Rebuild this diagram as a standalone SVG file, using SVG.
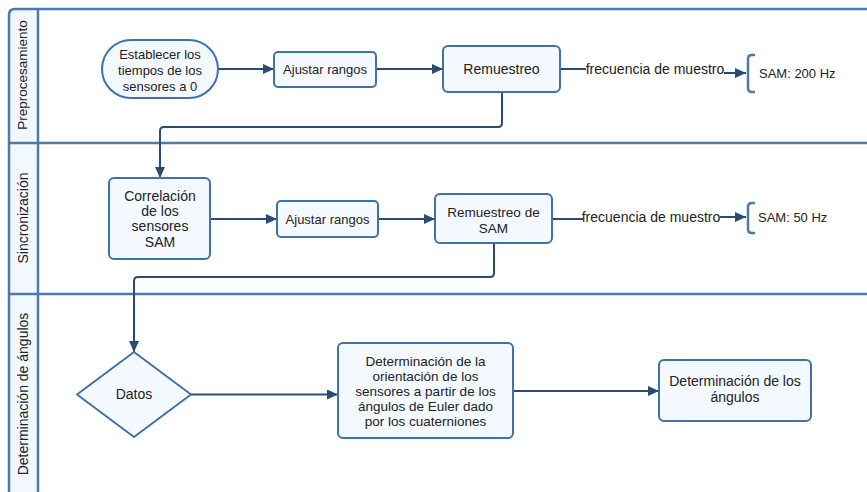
<svg xmlns="http://www.w3.org/2000/svg" width="867" height="492" viewBox="0 0 867 492">
<defs>
<style>
.lane{fill:none;stroke:#4a7bab;stroke-width:2.5}
.hdr{fill:#f2f8fd;stroke:none}
.node{fill:#f4f9ff;stroke:#3f72a6;stroke-width:2}
.edge{fill:none;stroke:#2b4c70;stroke-width:2}
.br{fill:none;stroke:#4a7bab;stroke-width:2.5}
text{font-family:"Liberation Sans",Arial,sans-serif;fill:#222;text-anchor:middle}
.s13{font-size:13px}
.s135{font-size:13.5px}
.s14{font-size:14px}
.lt{text-anchor:start}
</style>
<marker id="ah" markerUnits="userSpaceOnUse" markerWidth="12" markerHeight="10" refX="11" refY="5" orient="auto">
<path d="M0,0 L11,5 L0,10 z" fill="#2b4c70"/>
</marker>
</defs>
<rect width="867" height="492" fill="#ffffff"/>
<g id="pool">
<path class="hdr" d="M9,500 V15 Q9,9 15,9 H38 V500 z"/>
<path class="lane" d="M9,500 V15 Q9,9 15,9 H870"/>
<line class="lane" x1="38" y1="9" x2="38" y2="500"/>
<line class="lane" x1="9" y1="143" x2="870" y2="143"/>
<line class="lane" x1="9" y1="294" x2="870" y2="294"/>
<text class="s135" transform="translate(27,75) rotate(-90)">Preprocesamiento</text>
<text class="s14" transform="translate(28,218) rotate(-90)">Sincronización</text>
<text class="s14" transform="translate(28,394) rotate(-90)">Determinación de ángulos</text>
</g>
<g id="connectors">
<line class="edge" x1="218" y1="69" x2="274" y2="69" marker-end="url(#ah)"/>
<line class="edge" x1="376" y1="69" x2="443" y2="69" marker-end="url(#ah)"/>
<line class="edge" x1="560" y1="69" x2="586" y2="69"/>
<line class="edge" x1="724" y1="73" x2="746" y2="73" marker-end="url(#ah)"/>
<path class="edge" d="M502,92 V123 Q502,127 498,127 H164 Q160,127 160,131 V178" marker-end="url(#ah)"/>
<line class="edge" x1="210" y1="219" x2="277" y2="219" marker-end="url(#ah)"/>
<line class="edge" x1="378" y1="219" x2="435" y2="219" marker-end="url(#ah)"/>
<line class="edge" x1="552" y1="219" x2="583" y2="219"/>
<line class="edge" x1="720" y1="217" x2="746" y2="217" marker-end="url(#ah)"/>
<path class="edge" d="M494,243 V273 Q494,277 490,277 H138 Q134,277 134,281 V352" marker-end="url(#ah)"/>
<line class="edge" x1="191" y1="394.5" x2="338" y2="394.5" marker-end="url(#ah)"/>
<line class="edge" x1="513" y1="391" x2="659" y2="391" marker-end="url(#ah)"/>
<text class="s14" x="655" y="74">frecuencia de muestro</text>
<text class="s14" x="651" y="222">frecuencia de muestro</text>
</g>
<g id="n-establecer">
<rect class="node" x="102" y="40" width="116" height="58" rx="29"/>
<text class="s13" x="160" y="59">Establecer los</text>
<text class="s13" x="160" y="75">tiempos de los</text>
<text class="s13" x="160" y="91">sensores a 0</text>
</g>
<g id="n-ajustar1">
<rect class="node" x="274" y="52" width="102" height="35" rx="4"/>
<text class="s13" x="325" y="74">Ajustar rangos</text>
</g>
<g id="n-remuestreo">
<rect class="node" x="443" y="46" width="117" height="46" rx="5"/>
<text class="s14" x="501.5" y="74">Remuestreo</text>
</g>
<g id="n-sam200">
<path class="br" d="M755,55 H752 Q748,55 748,59 V88 Q748,92 752,92 H755"/>
<text class="s13 lt" x="759" y="78">SAM: 200 Hz</text>
</g>
<g id="n-correlacion">
<rect class="node" x="109" y="178" width="101" height="81" rx="5"/>
<text class="s14" x="160" y="201">Correlación</text>
<text class="s14" x="160" y="216">de los</text>
<text class="s14" x="160" y="231">sensores</text>
<text class="s14" x="160" y="247">SAM</text>
</g>
<g id="n-ajustar2">
<rect class="node" x="277" y="201" width="101" height="36" rx="4"/>
<text class="s13" x="327.5" y="224">Ajustar rangos</text>
</g>
<g id="n-remuestreo-sam">
<rect class="node" x="435" y="194" width="117" height="49" rx="5"/>
<text class="s135" x="493.5" y="217">Remuestreo de</text>
<text class="s135" x="493.5" y="233">SAM</text>
</g>
<g id="n-sam50">
<path class="br" d="M755,203 H752 Q748,203 748,207 V229 Q748,233 752,233 H755"/>
<text class="s13 lt" x="758" y="222">SAM: 50 Hz</text>
</g>
<g id="n-datos">
<polygon class="node" points="134,352 191,394.5 134,437 77,394.5" stroke-linejoin="round"/>
<text class="s14" x="134" y="399">Datos</text>
</g>
<g id="n-orientacion">
<rect class="node" x="338" y="343" width="175" height="95" rx="5"/>
<text class="s135" x="425.5" y="366">Determinación de la</text>
<text class="s135" x="425.5" y="381">orientación de los</text>
<text class="s135" x="425.5" y="396">sensores a partir de los</text>
<text class="s135" x="425.5" y="411">ángulos de Euler dado</text>
<text class="s135" x="425.5" y="426">por los cuaterniones</text>
</g>
<g id="n-angulos">
<rect class="node" x="659" y="360" width="152" height="61" rx="5"/>
<text class="s14" x="735" y="386">Determinación de los</text>
<text class="s14" x="735" y="402">ángulos</text>
</g>
</svg>
